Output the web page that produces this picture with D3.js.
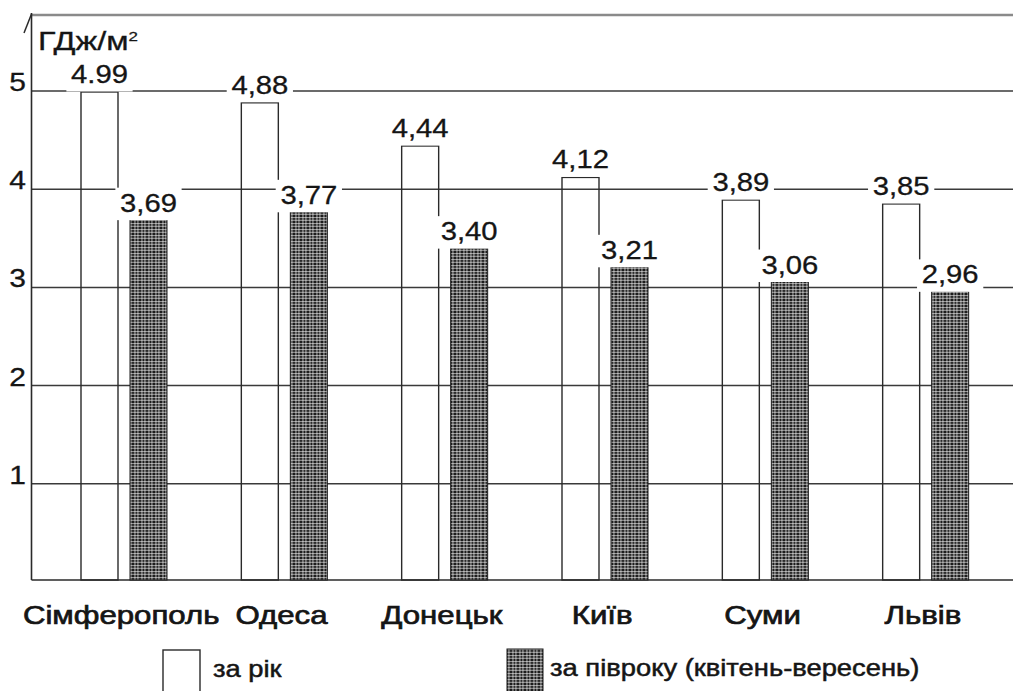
<!DOCTYPE html>
<html>
<head>
<meta charset="utf-8">
<script src="https://cdn.jsdelivr.net/npm/d3@7/dist/d3.min.js"></script>
<style>
  html, body { margin: 0; padding: 0; background: #fff; }
  svg { display: block; }
  text { font-family: "Liberation Sans", Arial, sans-serif; fill: #151515; }
</style>
</head>
<body>
<svg id="chart" width="1013" height="691"></svg>
<script>
// Сонячна радіація на горизонтальну поверхню, ГДж/м²
const categories = ["Сімферополь", "Одеса", "Донецьк", "Київ", "Суми", "Львів"];
const annualLabels = ["4.99", "4,88", "4,44", "4,12", "3,89", "3,85"];
const halfYearLabels = ["3,69", "3,77", "3,40", "3,21", "3,06", "2,96"];
const seriesNames = ["за рік", "за півроку (квітень-вересень)"];
const yTicks = [1, 2, 3, 4, 5];
const unitText = "ГДж/м";
const unitSup = "2";

const toNum = s => +s.replace(",", ".");
const annual = annualLabels.map(toNum);
const halfYear = halfYearLabels.map(toNum);

const W = 1013, H = 691;
const svg = d3.select("#chart");

const axisX = 31.5, topY = 15, rightX = W;

const x = d3.scaleBand().domain(categories).range([44, 1006]).paddingInner(0);
const xi = d3.scaleBand().domain(["annual", "half"])
  .range([37, 123]).paddingInner(0.245).paddingOuter(0);
const y = d3.scaleLinear().domain([0, 5]).range([582, 91]);

// hatch pattern for the half-year series
const defs = svg.append("defs");
const pat = defs.append("pattern").attr("id", "hatch")
  .attr("patternUnits", "userSpaceOnUse").attr("width", 7).attr("height", 6);
pat.append("rect").attr("width", 7).attr("height", 6).attr("fill", "#1c1c1c");
[1.5, 4.5].forEach(px => pat.append("rect").attr("x", px).attr("y", 0)
  .attr("width", 0.9).attr("height", 6).attr("fill", "#fff").attr("opacity", 0.7));
[1.2, 3.8].forEach(py => pat.append("rect").attr("x", 0).attr("y", py)
  .attr("width", 7).attr("height", 0.9).attr("fill", "#fff").attr("opacity", 0.65));

// frame top line
svg.append("line").attr("x1", axisX).attr("x2", rightX)
  .attr("y1", topY).attr("y2", topY)
  .attr("stroke", "#8a8a8a").attr("stroke-width", 2.5);

// horizontal gridlines
svg.append("g").selectAll("line").data(yTicks).join("line")
  .attr("x1", axisX).attr("x2", rightX)
  .attr("y1", d => y(d)).attr("y2", d => y(d))
  .attr("stroke", "#3a3a3a").attr("stroke-width", 1.5);

// baseline
svg.append("line").attr("x1", axisX).attr("x2", rightX)
  .attr("y1", y(0) - 2).attr("y2", y(0) - 2)
  .attr("stroke", "#2a2a2a").attr("stroke-width", 1.6);

// y axis with arrow
svg.append("line").attr("x1", axisX).attr("x2", axisX)
  .attr("y1", 13).attr("y2", y(0) - 2)
  .attr("stroke", "#2a2a2a").attr("stroke-width", 1.6);
svg.append("path").attr("d", `M${axisX},14 L24,33`)
  .attr("fill", "none").attr("stroke", "#2a2a2a").attr("stroke-width", 1.5);

// helper for stretched text
function label(parent, tx, ty, str, opt) {
  const o = Object.assign({ anchor: "start", size: 25, sx: 1.17, weight: "normal", stroke: 0.3, box: false }, opt);
  const g = parent.append("g").attr("transform", `translate(${tx},${ty}) scale(${o.sx},1)`);
  const t = g.append("text").attr("font-size", o.size).attr("text-anchor", o.anchor)
    .attr("font-weight", o.weight)
    .attr("stroke", "#151515").attr("stroke-width", o.stroke)
    .text(str);
  if (o.box) {
    const b = t.node().getBBox();
    g.insert("rect", "text")
      .attr("x", b.x - 4).attr("y", b.y - 1)
      .attr("width", b.width + 8).attr("height", b.height + 4)
      .attr("fill", "#fff");
  }
  return g;
}

// y tick labels
yTicks.forEach(d => label(svg, 26, y(d), String(d), { anchor: "end", sx: 1.2 }));

// unit
const ug = svg.append("g").attr("transform", `translate(38,50) scale(1.3,1)`);
const ut = ug.append("text").attr("font-size", 25)
  .attr("stroke", "#151515").attr("stroke-width", 0.3).text(unitText);
ut.append("tspan").attr("font-size", 13).attr("dy", -9).text(unitSup);

// bars
const bars = svg.append("g");
categories.forEach((c, i) => {
  const x0 = x(c);
  bars.append("rect")
    .attr("x", x0 + xi("annual")).attr("width", xi.bandwidth())
    .attr("y", y(annual[i])).attr("height", y(0) - 2 - y(annual[i]))
    .attr("fill", "none").attr("stroke", "#2a2a2a").attr("stroke-width", 1.4);
  bars.append("rect")
    .attr("x", x0 + xi("half")).attr("width", xi.bandwidth())
    .attr("y", y(halfYear[i])).attr("height", y(0) - 2 - y(halfYear[i]))
    .attr("fill", "url(#hatch)").attr("stroke", "#1a1a1a").attr("stroke-width", 1);
});

// value labels
const vl = svg.append("g");
categories.forEach((c, i) => {
  const x0 = x(c);
  label(vl, x0 + xi("annual") + xi.bandwidth() / 2, y(annual[i]) - 9, annualLabels[i], { anchor: "middle", box: true });
  label(vl, x0 + xi("half") + xi.bandwidth() / 2, y(halfYear[i]) - 8, halfYearLabels[i], { anchor: "middle", box: true });
});

// category labels
categories.forEach(c => label(svg, x(c) + x.bandwidth() / 2 - 3, 624, c,
  { anchor: "middle", size: 26, sx: 1.2, stroke: 0.7 }));

// legend
svg.append("rect").attr("x", 163).attr("y", 650).attr("width", 37).attr("height", 48)
  .attr("fill", "#fff").attr("stroke", "#2a2a2a").attr("stroke-width", 1.4);
label(svg, 213, 677, seriesNames[0], { size: 24, sx: 1.14, stroke: 0.5 });
svg.append("rect").attr("x", 507).attr("y", 649).attr("width", 36).attr("height", 48)
  .attr("fill", "url(#hatch)").attr("stroke", "#1a1a1a").attr("stroke-width", 1);
label(svg, 550, 676, seriesNames[1], { size: 24, sx: 1.14, stroke: 0.5 });
</script>
</body>
</html>
